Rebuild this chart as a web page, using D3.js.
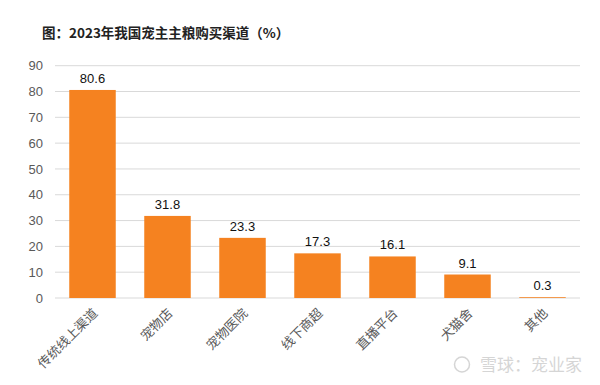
<!DOCTYPE html>
<html>
<head>
<meta charset="utf-8">
<script src="https://cdn.jsdelivr.net/npm/d3@7"></script>
<style>
  body { margin: 0; background: #fff; }
  text { font-family: "Liberation Sans", Arial, "Noto Sans CJK SC", sans-serif; }
</style>
</head>
<body>
<svg id="plot" width="600" height="385"></svg>
<script>
// chart data
var channels = ['传统线上渠道', '宠物店', '宠物医院', '线下商超', '直播平台', '犬猫舍', '其他'];
var shares = [80.6, 31.8, 23.3, 17.3, 16.1, 9.1, 0.3];
var yTicks = [0, 10, 20, 30, 40, 50, 60, 70, 80, 90];

var width = +d3.select('#plot').attr('width');
var height = +d3.select('#plot').attr('height');
var svg = d3.select('#plot');

// plot area edges (note: "top" is taken by window.top)
var plotLeft = 55, plotRight = 580, plotTop = 65.7, plotBottom = 298;

var xScale = d3.scaleBand()
  .domain(channels)
  .range([plotLeft, plotRight])
  .paddingInner(0.38)
  .paddingOuter(0.19);

var yScale = d3.scaleLinear()
  .domain([0, 90])
  .range([plotBottom, plotTop]);

// title
svg.append('text')
  .attr('x', 42)
  .attr('y', 38)
  .style('font-family', '"Noto Sans CJK SC", sans-serif')
  .style('font-weight', 'bold')
  .style('font-size', '13.5px')
  .attr('fill', '#222')
  .text('图：2023年我国宠主主粮购买渠道（%）');

// gridlines
svg.append('g')
  .selectAll('line')
  .data(yTicks)
  .enter()
  .append('line')
  .attr('x1', plotLeft)
  .attr('x2', plotRight)
  .attr('y1', function (d) { return yScale(d) })
  .attr('y2', function (d) { return yScale(d) })
  .attr('stroke', '#d9d9d9')
  .attr('stroke-width', 1);

// y axis labels
var yAxis = d3.axisLeft(yScale).tickValues(yTicks).tickSize(0).tickPadding(0);
var gy = svg.append('g')
  .attr('transform', 'translate(43,0)')
  .call(yAxis);
gy.select('.domain').remove();
gy.selectAll('text')
  .style('font-family', '"Liberation Sans", Arial, sans-serif')
  .style('font-size', '13px')
  .attr('fill', '#595959');

// bars
svg.append('g')
  .selectAll('rect')
  .data(shares)
  .enter()
  .append('rect')
  .attr('x', function (d, i) { return xScale(channels[i]) })
  .attr('y', function (d) { return yScale(d) })
  .attr('width', xScale.bandwidth())
  .attr('height', function (d) { return plotBottom - yScale(d) })
  .attr('fill', '#F58220');

// value labels
svg.append('g')
  .selectAll('text')
  .data(shares)
  .enter()
  .append('text')
  .attr('x', function (d, i) { return xScale(channels[i]) + xScale.bandwidth() / 2 })
  .attr('y', function (d) { return yScale(d) - 7 })
  .attr('text-anchor', 'middle')
  .style('font-size', '13px')
  .attr('fill', '#111')
  .text(function (d) { return d.toFixed(1) });

// x axis labels, rotated
var xAxis = d3.axisBottom(xScale).tickSize(0).tickPadding(0);
var gx = svg.append('g')
  .attr('transform', 'translate(0,' + plotBottom + ')')
  .call(xAxis);
gx.select('.domain').remove();
gx.selectAll('text')
  .style('font-family', '"Noto Sans CJK SC", sans-serif')
  .style('font-size', '13px')
  .attr('fill', '#595959')
  .attr('text-anchor', 'end')
  .attr('dy', null)
  .attr('y', 0)
  .attr('transform', 'translate(6,16) rotate(-45)');

// watermark
var wm = svg.append('g').attr('opacity', 0.3);
wm.append('circle')
  .attr('cx', 462)
  .attr('cy', 364.5)
  .attr('r', 7.5)
  .attr('fill', 'none')
  .attr('stroke', '#777')
  .attr('stroke-width', 1.5);
wm.append('text')
  .attr('x', 480)
  .attr('y', 371)
  .style('font-family', '"Noto Sans CJK SC", sans-serif')
  .style('font-size', '17px')
  .attr('fill', '#777')
  .text('雪球：宠业家');
</script>
</body>
</html>
